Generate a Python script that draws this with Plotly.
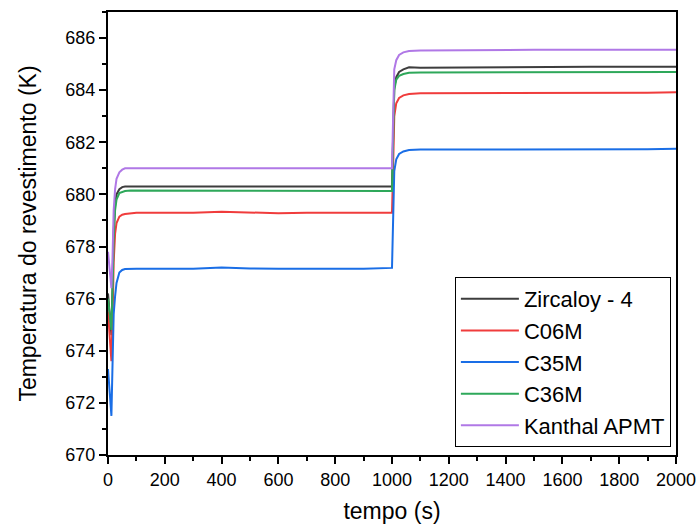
import plotly.graph_objects as go

t = [0, 4, 8, 12, 16, 20, 25, 30, 40, 50, 60, 80, 100, 200, 300, 400, 500, 600, 700, 800, 900, 1000,
     1003, 1008, 1015, 1025, 1040, 1060, 1100, 1200, 1300, 1400, 1500, 1600, 1700, 1800, 1900, 2000]

zircaloy = [676.2, 675.6, 675.0, 674.6, 676.5, 678.6, 679.6, 680.0, 680.2, 680.28, 680.3, 680.3, 680.32, 680.3, 680.3, 680.32, 680.3, 680.3, 680.3, 680.3, 680.3, 680.3,
            681.8, 684.1, 684.5, 684.7, 684.8, 684.88, 684.86, 684.87, 684.88, 684.88, 684.9, 684.9, 684.9, 684.9, 684.9, 684.9]
c06m = [675.5, 674.8, 674.0, 673.6, 675.2, 677.4, 678.5, 678.9, 679.15, 679.22, 679.25, 679.28, 679.3, 679.3, 679.3, 679.33, 679.3, 679.28, 679.3, 679.3, 679.3, 679.3,
        680.6, 683.0, 683.5, 683.7, 683.8, 683.85, 683.88, 683.88, 683.9, 683.9, 683.9, 683.9, 683.88, 683.9, 683.9, 683.92]
c35m = [673.3, 672.6, 671.9, 671.5, 673.5, 675.4, 676.1, 676.6, 677.0, 677.1, 677.14, 677.15, 677.15, 677.15, 677.15, 677.2, 677.16, 677.15, 677.15, 677.15, 677.15, 677.18,
        678.8, 680.9, 681.35, 681.55, 681.65, 681.7, 681.72, 681.72, 681.73, 681.73, 681.73, 681.73, 681.73, 681.73, 681.73, 681.75]
c36m = [676.0, 675.5, 675.0, 674.8, 676.3, 678.3, 679.4, 679.8, 680.05, 680.1, 680.13, 680.15, 680.15, 680.15, 680.15, 680.15, 680.15, 680.15, 680.15, 680.15, 680.15, 680.13,
        681.6, 684.0, 684.4, 684.55, 684.62, 684.67, 684.68, 684.68, 684.7, 684.7, 684.7, 684.7, 684.7, 684.7, 684.7, 684.7]
kanthal = [677.8, 677.2, 676.8, 676.4, 677.6, 679.4, 680.2, 680.6, 680.85, 680.95, 681.0, 681.0, 681.0, 681.0, 681.0, 681.0, 681.0, 681.0, 681.0, 681.0, 681.0, 681.0,
           682.5, 684.8, 685.15, 685.35, 685.45, 685.5, 685.52, 685.53, 685.55, 685.55, 685.55, 685.55, 685.55, 685.55, 685.55, 685.55]

names = ["Zircaloy - 4", "C06M", "C35M", "C36M", "Kanthal APMT"]
series = [zircaloy, c06m, c35m, c36m, kanthal]
colors = ["#3d3d3d", "#f03c3c", "#1a6ee6", "#2ea85a", "#b078e6"]

x_ticks = list(range(0, 2001, 200))
y_ticks = list(range(670, 687, 2))

FONT = "Liberation Sans, Arial"

fig = go.Figure()
for name, vals, c in zip(names, series, colors):
    fig.add_trace(go.Scatter(x=t, y=vals, mode="lines", name=name,
                             line=dict(color=c, width=2, shape="linear")))

axis_common = dict(showline=True, linecolor="black", linewidth=2, mirror=True,
                   ticks="outside", ticklen=7, tickwidth=2, tickcolor="black",
                   showgrid=False, zeroline=False, automargin=False,
                   tickfont=dict(family=FONT, size=18, color="black"))

fig.update_xaxes(range=[0, 2000], tickvals=x_ticks,
                 minor=dict(dtick=100, ticks="outside", ticklen=4, tickwidth=2, tickcolor="black"),
                 title=dict(text="tempo (s)", font=dict(family=FONT, size=23, color="black"), standoff=14),
                 **axis_common)
fig.update_yaxes(range=[670, 687], tickvals=y_ticks,
                 minor=dict(dtick=1, ticks="outside", ticklen=4, tickwidth=2, tickcolor="black"),
                 title=dict(text="Temperatura do revestimento (K)", font=dict(family=FONT, size=23, color="black"), standoff=22),
                 **axis_common)

fig.update_layout(
    width=697, height=524,
    margin=dict(l=108, r=21, t=12, b=69),
    plot_bgcolor="white", paper_bgcolor="white",
    legend=dict(x=0.991, y=0.018, xanchor="right", yanchor="bottom",
                bgcolor="white", bordercolor="black", borderwidth=1,
                font=dict(family=FONT, size=22, color="black"),
                tracegroupgap=0, itemwidth=58),
    showlegend=True,
)

fig.write_html("out.html")
